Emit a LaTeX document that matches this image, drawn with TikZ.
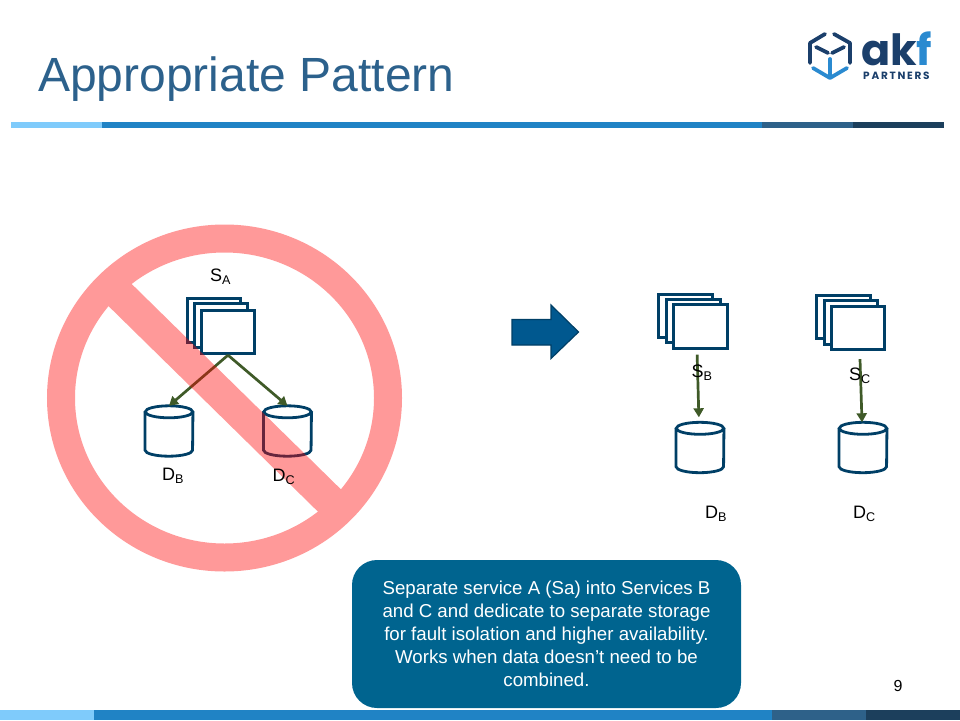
\documentclass[tikz,border=0pt]{standalone}
\usepackage{xcolor}
\usepackage{fontspec}
\usetikzlibrary{arrows.meta}
\setmainfont{Liberation Sans}
\newfontfamily\logofont{Poppins}
\definecolor{barlight}{HTML}{7FCBFB}
\definecolor{barblue}{HTML}{2083C5}
\definecolor{barslate}{HTML}{2E6189}
\definecolor{barnavy}{HTML}{1C3F5C}
\definecolor{titleblue}{HTML}{2C618C}
\definecolor{linkgreen}{HTML}{3F5A28}
\definecolor{storeblue}{HTML}{003F66}
\definecolor{noteblue}{HTML}{00648F}
\definecolor{arrowblue}{HTML}{00588F}
\definecolor{logonavy}{HTML}{1B3F6B}
\definecolor{logoblue}{HTML}{2A8AD0}
\tikzset{
  pagebox/.style={draw=storeblue,line width=2.8,fill=white,minimum width=#1,minimum height=43.5,inner sep=0},
  store/.style={minimum width=47.5,minimum height=50,inner sep=0},
  storeline/.style={draw=storeblue,line width=2.8},
  link/.style={linkgreen,line width=2.7,-{Triangle[length=9,width=10]}},
  label/.style={font=\fontsize{18}{20}\selectfont,inner sep=0},
  cubeline/.style={line width=3.8,line cap=round,line join=round}
}
\begin{document}
\begin{tikzpicture}[x=1pt,y=-1pt]
        \useasboundingbox (0,0) rectangle (960,720);
        % bars
        \fill[barlight] (11,122) rectangle (102,128);
        \fill[barblue] (102,122) rectangle (762,128);
        \fill[barslate] (762,122) rectangle (853,128);
        \fill[barnavy] (853,122) rectangle (944,128);
        \fill[barlight] (0,710) rectangle (94,720);
        \fill[barblue] (94,710) rectangle (772,720);
        \fill[barslate] (772,710) rectangle (866,720);
        \fill[barnavy] (866,710) rectangle (960,720);
        \node[anchor=west,inner sep=0,text=titleblue,font=\fontsize{48}{50}\selectfont] (title) at (38,79) {Appropriate Pattern};
        % logo
        \draw[cubeline,logonavy] (825,34) -- (810,43) -- (810,63);
        \draw[cubeline,logonavy] (834,34) -- (850,43) -- (850,63);
        \draw[cubeline,logonavy] (816,47) -- (828,53);
        \draw[cubeline,logonavy] (844,47) -- (832,53);
        \draw[cubeline,logoblue] (813,68) -- (830,78) -- (847,68);
        \draw[cubeline,logoblue] (830,59) -- (830,75);
        \node[anchor=base west,inner sep=0,text depth=0,font=\logofont\bfseries\fontsize{43}{43}\selectfont,text=logonavy] (akf) at (861,65) {ak\textcolor{logoblue}{f}};
        \node[anchor=base west,inner sep=0,font=\logofont\fontsize{10.5}{10.5}\selectfont\bfseries,text=logonavy] (partners) at (863,79) {P\,A\,R\,T\,N\,E\,R\,S};
        % left
        \node[pagebox=53.5] (sa1) at (214,320.5) {};
        \node[pagebox=53.5] (sa2) at (221,325.5) {};
        \node[pagebox=53.5] (sa3) at (228,332) {};
        \node[store] (dba) at (169,431) {};
        \node[store] (dca) at (287.5,431) {};
        % right
        \node[pagebox=53.5] (sb1) at (685.5,316) {};
        \node[pagebox=53.5] (sb2) at (693.5,321) {};
        \node[pagebox=53.5] (sb3) at (700.5,326.5) {};
        \node[pagebox=53.5] (sc1) at (843.5,317) {};
        \node[pagebox=53.5] (sc2) at (851,322.5) {};
        \node[pagebox=53.5] (sc3) at (858,328) {};
        \node[store] (dbb) at (700,447.5) {};
        \node[store] (dcb) at (863,447.5) {};
        \foreach \s in {dba,dca,dbb,dcb} {
          \draw[storeline] ([yshift=-6]\s.north) ellipse (23.75 and 6);
          \draw[storeline] ([yshift=-6]\s.north west) -- ([yshift=6]\s.south west)
            arc[start angle=180,end angle=0,x radius=23.75,y radius=6] -- ([yshift=-6]\s.north east);
        }
        \draw[link] (sa3.south) -- (dba.north);
        \draw[link] (sa3.south) -- (dca.north);
        \draw[link,shorten <=5,shorten >=5] ([xshift=-3.5]sb3.south) -- ([xshift=-1]dbb.north);
        \draw[link] ([shift={(2,8)}]sc3.south) -- ([xshift=-1]dcb.north);
        % no sign
        \begin{scope}[transparency group,opacity=.4]
        \draw[red,line width=28] (224.5,398) ellipse (163.5 and 159.5);
        \draw[red,line width=32] (117,292) -- (332,503);
        \end{scope}
        \node[label] (sal) at (220.5,277) {S\textsubscript{A}};
        \node[label] (dbal) at (173,476) {D\textsubscript{B}};
        \node[label] (dcal) at (284,477) {D\textsubscript{C}};
        \node[label] (sbl) at (702,373) {S\textsubscript{B}};
        \node[label] (scl) at (860,376) {S\textsubscript{C}};
        \node[label] (dbbl) at (716,514) {D\textsubscript{B}};
        \node[label] (dcbl) at (864.5,514) {D\textsubscript{C}};
        % arrow
        \draw[draw=storeblue,fill=arrowblue,line width=1.2] (512,319.5) -- (551,319.5) -- (551,305) -- (578.5,332) -- (551,358.5) -- (551,345) -- (512,345) -- cycle;
        % note
        \node[fill=noteblue,rounded corners=25,minimum width=389,minimum height=148,inner sep=0,text=white,align=center,
          font=\fontsize{18.67}{23}\selectfont] (note) at (546.5,634) {Separate service A (Sa) into Services B\\and C and dedicate to separate storage\\for fault isolation and higher availability.\\Works when data doesn’t need to be\\combined.};
        \node[inner sep=0,font=\fontsize{16}{18}\selectfont] (pagenum) at (898,686) {9};
\end{tikzpicture}
\end{document}
